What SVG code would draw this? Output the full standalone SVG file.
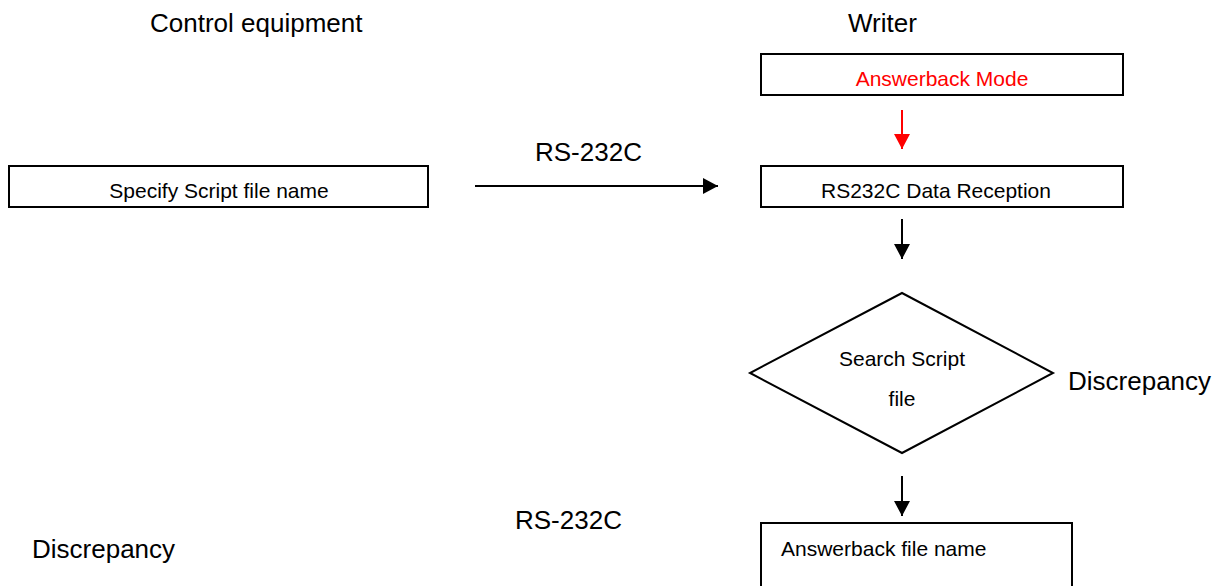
<svg xmlns="http://www.w3.org/2000/svg" width="1229" height="586" viewBox="0 0 1229 586">
<style>
text{font-family:"Liberation Sans",Arial,sans-serif;fill:#000}
.big{font-size:26px}
.sm{font-size:21px}
.box{fill:#fff;stroke:#000;stroke-width:2}
.con{stroke:#000;stroke-width:2;fill:none}
</style>
<defs>
<marker id="ah" markerUnits="userSpaceOnUse" markerWidth="16" markerHeight="16" viewBox="0 0 16 16" refX="15" refY="8" orient="auto">
<path d="M0,0 L15,8 L0,16 Z" fill="#000"/>
</marker>
<marker id="ahr" markerUnits="userSpaceOnUse" markerWidth="16" markerHeight="16" viewBox="0 0 16 16" refX="15" refY="8" orient="auto">
<path d="M0,0 L15,8 L0,16 Z" fill="#f00"/>
</marker>
</defs>
<g id="labels">
<text class="big" x="150" y="32">Control equipment</text>
<text class="big" x="848" y="32">Writer</text>
<text class="big" x="535" y="161">RS-232C</text>
<text class="big" x="1068" y="390">Discrepancy</text>
<text class="big" x="515" y="529">RS-232C</text>
<text class="big" x="32" y="558">Discrepancy</text>
</g>
<g id="n-mode">
<rect class="box" x="761" y="54" width="362" height="41"/>
<text class="sm" x="942" y="86" text-anchor="middle" style="fill:#f00">Answerback Mode</text>
</g>
<g id="n-recv">
<rect class="box" x="761" y="166" width="362" height="41"/>
<text class="sm" x="936" y="198" text-anchor="middle">RS232C Data Reception</text>
</g>
<g id="n-spec">
<rect class="box" x="9" y="166" width="419" height="41"/>
<text class="sm" x="219" y="198" text-anchor="middle">Specify Script file name</text>
</g>
<g id="n-search">
<polygon class="box" points="902,293 1053,373 902,453 750,373"/>
<text class="sm" x="902" y="366" text-anchor="middle">Search Script</text>
<text class="sm" x="902" y="406" text-anchor="middle">file</text>
</g>
<g id="n-ansfile">
<rect class="box" x="761" y="523" width="311" height="80"/>
<text class="sm" x="781" y="556">Answerback file name</text>
</g>
<g id="connectors">
<line x1="902" y1="110" x2="902" y2="149" stroke="#f00" stroke-width="2" marker-end="url(#ahr)"/>
<line class="con" x1="475" y1="186" x2="718" y2="186" marker-end="url(#ah)"/>
<line class="con" x1="902" y1="219" x2="902" y2="259" marker-end="url(#ah)"/>
<line class="con" x1="902" y1="476" x2="902" y2="516" marker-end="url(#ah)"/>
</g>
</svg>
